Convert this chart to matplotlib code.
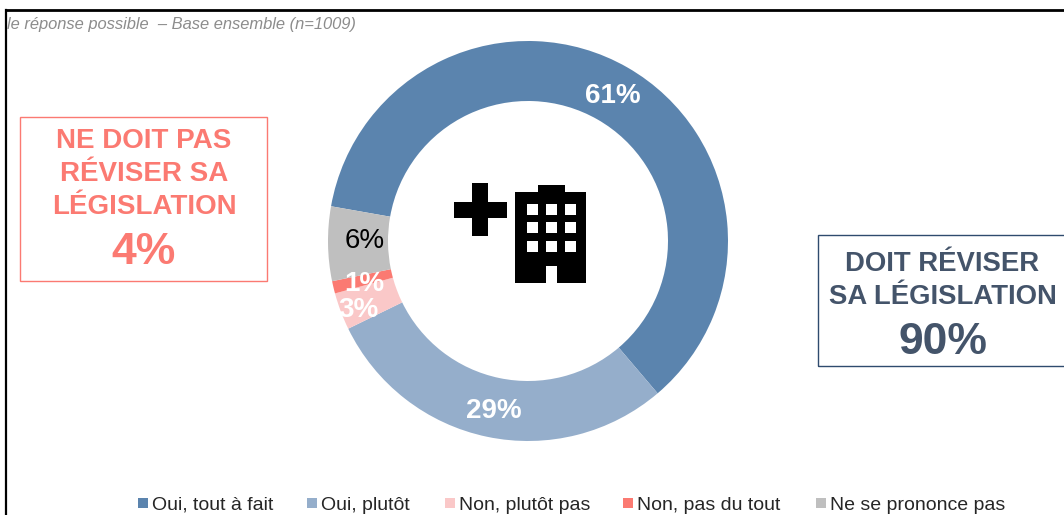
import matplotlib
matplotlib.use('Agg')
import matplotlib.pyplot as plt
from matplotlib.patches import Rectangle

plt.rcParams['font.family'] = ['Liberation Sans', 'DejaVu Sans']

W, H = 1064, 515

# chart data
categories = ['Oui, tout à fait', 'Oui, plutôt', 'Non, plutôt pas',
              'Non, pas du tout', 'Ne se prononce pas']
values = [61, 29, 3, 1, 6]
value_labels = ['61%', '29%', '3%', '1%', '6%']
colors = ['#5b84ae', '#95aecb', '#fac8c8', '#fb7a72', '#bfbfbf']
label_colors = ['white', 'white', 'white', 'white', 'black']
subtitle = 'le réponse possible  – Base ensemble (n=1009)'
left_box_lines = ['NE DOIT PAS', 'RÉVISER SA', 'LÉGISLATION']
left_box_value = '4%'
right_box_lines = ['DOIT RÉVISER', 'SA LÉGISLATION']
right_box_value = '90%'


def py(y):
    # picture y (from the top) to axes y
    return H - y


def rect(ax, x0, y0, x1, y1, **kw):
    ax.add_patch(Rectangle((x0, py(y1)), x1 - x0, y1 - y0, **kw))


def draw_icon(ax):
    solid = dict(facecolor='black', edgecolor='none', zorder=5)
    hole = dict(facecolor='white', edgecolor='none', zorder=6)
    # cross
    rect(ax, 472, 183, 488, 236, **solid)
    rect(ax, 454, 202, 507, 218, **solid)
    # building
    rect(ax, 515, 192, 586, 283, **solid)
    rect(ax, 538, 185, 565, 192, **solid)
    for wy in (204, 222, 241):
        for wx in (527, 546, 565):
            rect(ax, wx, wy, wx + 11, wy + 11, **hole)
    rect(ax, 546, 266, 557, 283, **hole)


fig = plt.figure(figsize=(W / 100, H / 100), dpi=100)
ax = fig.add_axes([0, 0, 1, 1])

wedges, _ = ax.pie(values, colors=colors, startangle=170, counterclock=False,
                   center=(528, py(241)), radius=200,
                   wedgeprops=dict(width=60, edgecolor='none'))
ax.set_xlim(0, W)
ax.set_ylim(0, H)
ax.set_aspect('equal')
ax.axis('off')

# value labels, placed by hand as in the picture
label_pos = [(612.5, 96), (494, 411), (358, 310), (364, 284), (364.5, 241)]
for txt, col, (x, y) in zip(value_labels, label_colors, label_pos):
    ax.text(x, py(y), txt, color=col, fontsize=20, ha='center', va='center',
            fontweight='bold' if col == 'white' else 'normal', zorder=4)

# frame of the screenshot
ax.plot([6, W], [py(10), py(10)], color='black', lw=2, clip_on=False)
ax.plot([6, 6], [py(10), 0], color='black', lw=1.6, clip_on=False)

ax.text(7, py(24), subtitle, color='#8c8c8c', fontsize=11.9, style='italic',
        ha='left', va='center')

# left box
rect(ax, 20, 117, 267, 281, facecolor='none', edgecolor='#fb7a72', lw=1)
for line, y in zip(left_box_lines, (141, 174, 207)):
    ax.text(144, py(y), line, color='#fb7a72', fontsize=20, fontweight='bold',
            ha='center', va='center')
ax.text(144, py(252), left_box_value, color='#fb7a72', fontsize=32,
        fontweight='bold', ha='center', va='center')

# right box
rect(ax, 818, 235, 1070, 366, facecolor='none', edgecolor='#2f4b6e', lw=1)
for line, y in zip(right_box_lines, (264, 297)):
    ax.text(942.5, py(y), line, color='#44546a', fontsize=19.8, fontweight='bold',
            ha='center', va='center')
ax.text(942.5, py(342), right_box_value, color='#44546a', fontsize=32,
        fontweight='bold', ha='center', va='center')

draw_icon(ax)

# legend
legend_x = [138, 307, 445, 623, 816]
for name, col, x in zip(categories, colors, legend_x):
    rect(ax, x, 498, x + 10, 508, facecolor=col, edgecolor='none')
    ax.text(x + 14, py(505), name, color='#262626', fontsize=14,
            ha='left', va='center')

fig.savefig('out.png', dpi=100)
